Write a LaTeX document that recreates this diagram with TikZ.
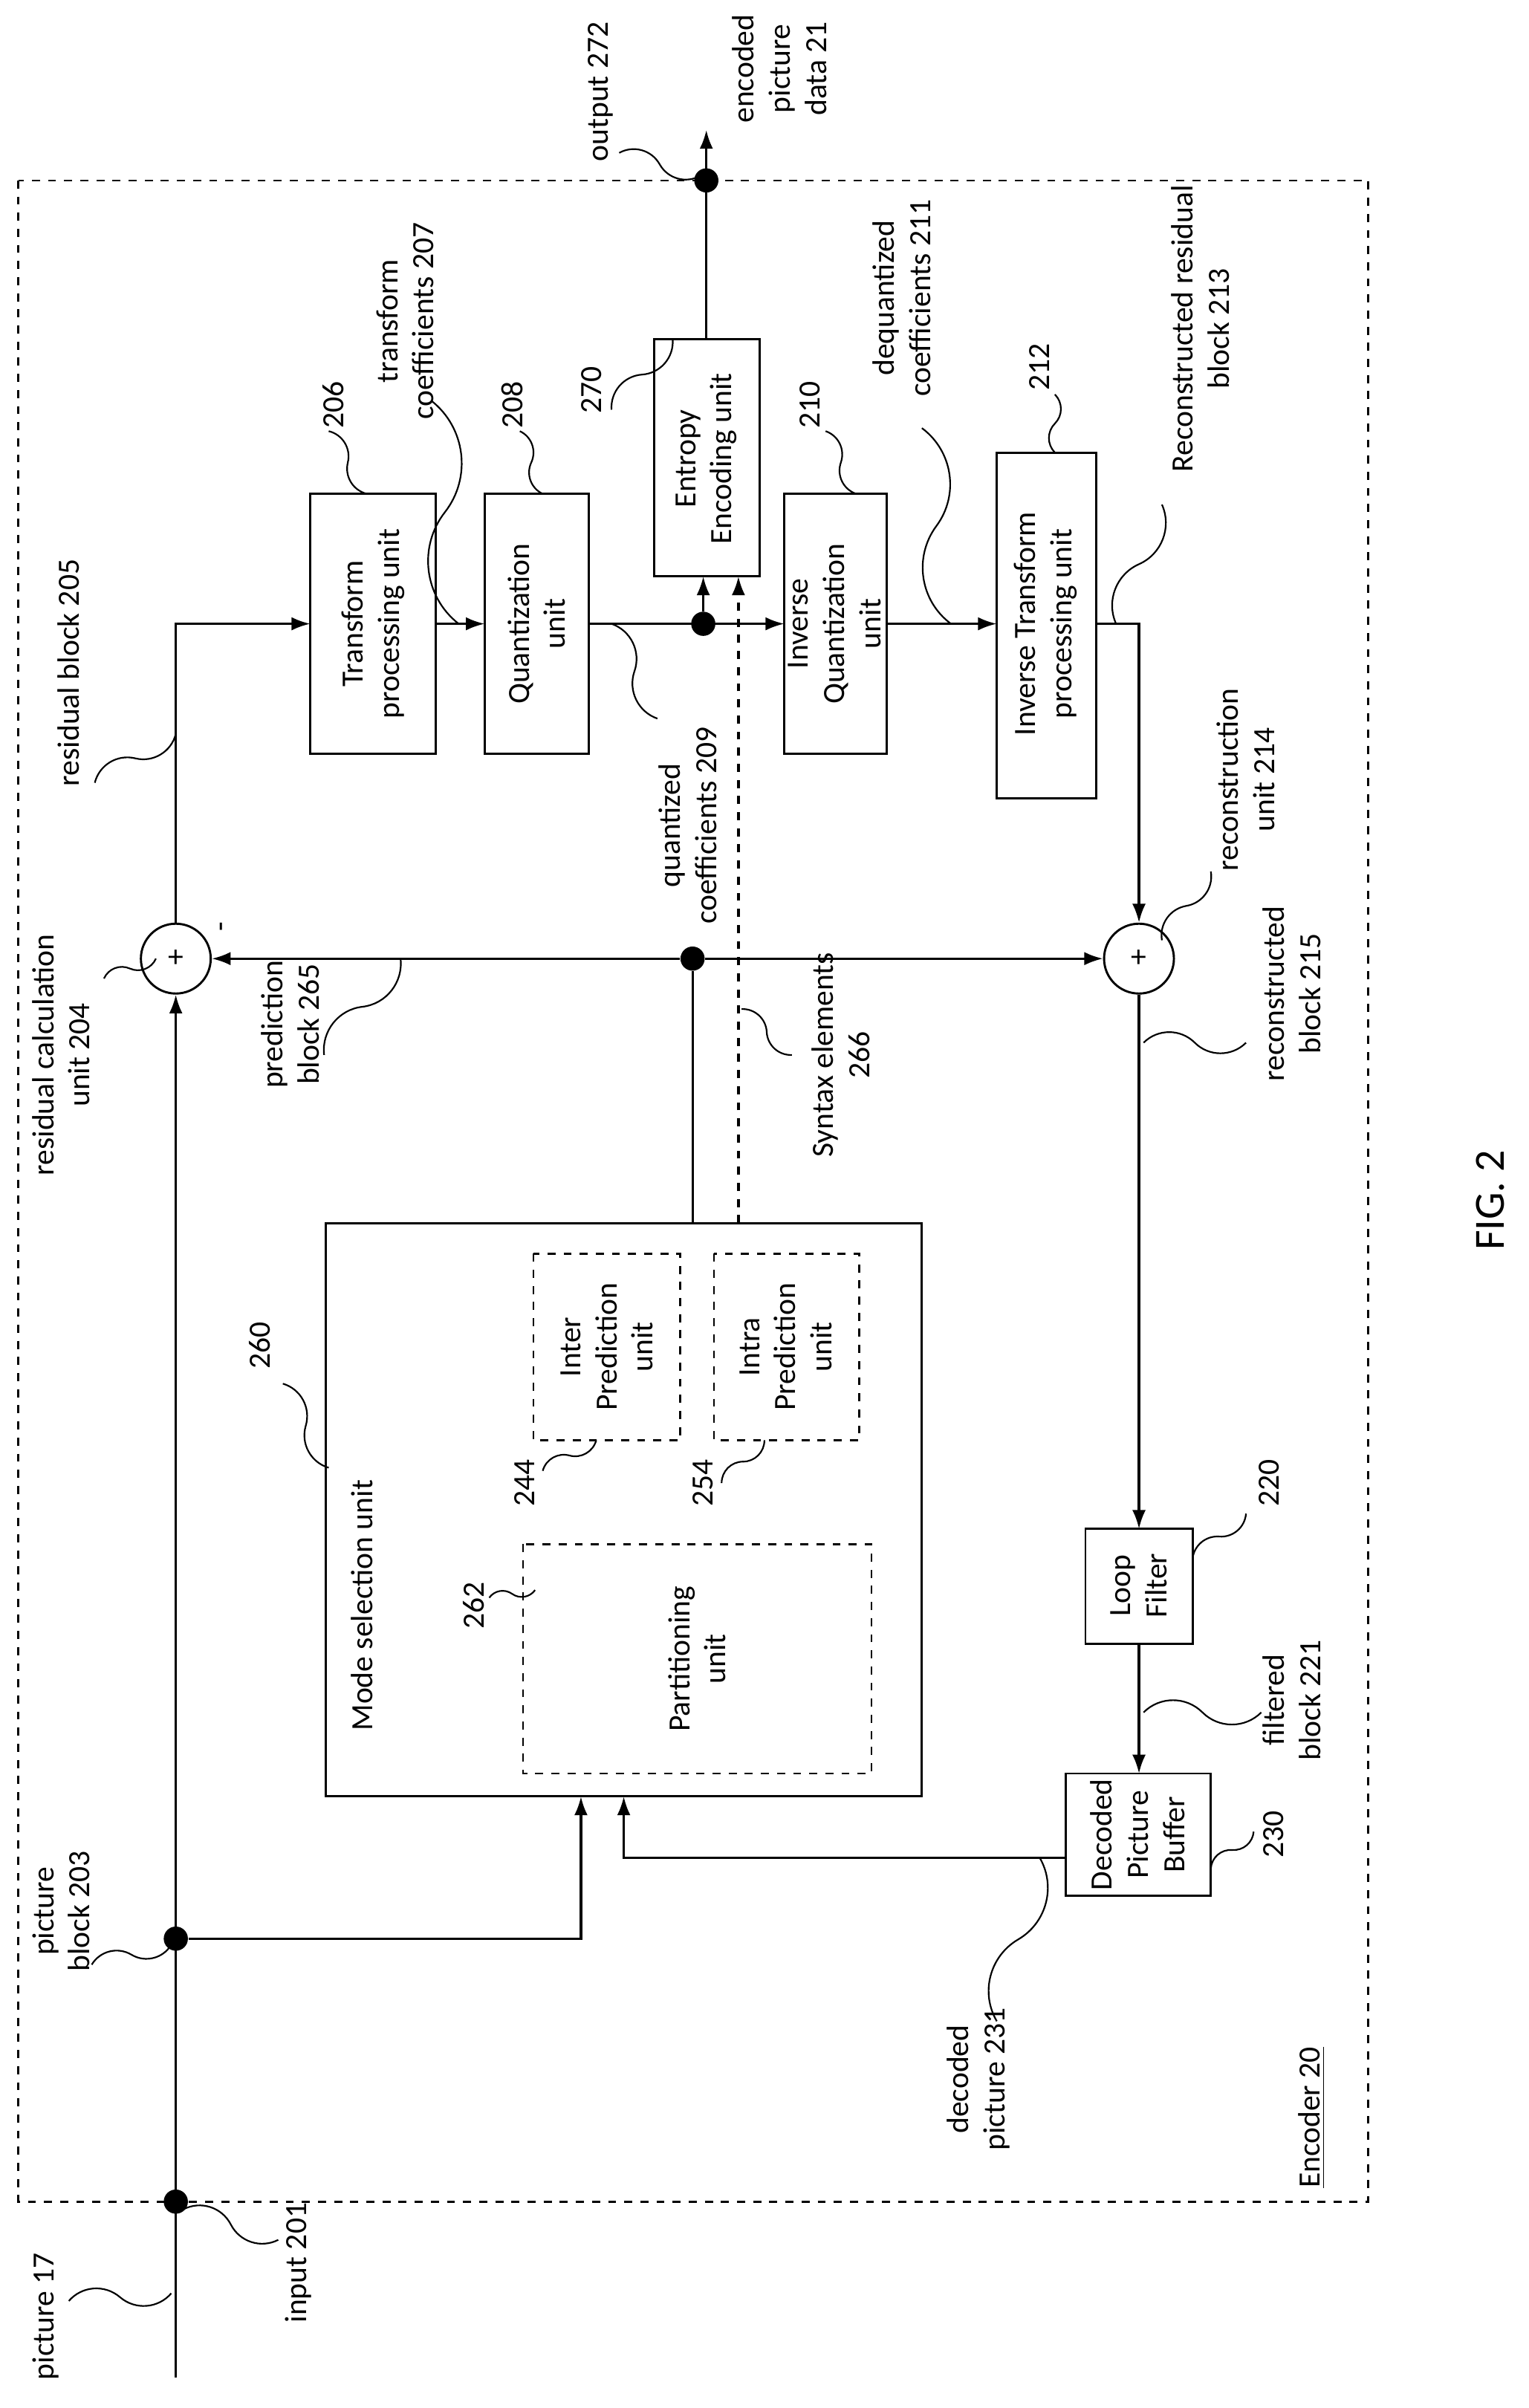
\documentclass[tikz,border=0pt]{standalone}
\usepackage{fontspec}
\setmainfont{Carlito}
\usetikzlibrary{arrows.meta,calc}
\begin{document}
\begin{tikzpicture}[x=0.02cm,y=-0.02cm,
  every node/.style={font=\fontsize{11.5}{13.5}\selectfont},
  lab/.style={rotate=90,align=center,inner sep=1pt},
  box/.style={draw,line width=0.8pt},
  dbox/.style={draw,dashed,line width=0.7pt},
  ln/.style={line width=0.9pt},
  arr/.style={line width=0.9pt,-{Latex[length=7pt,width=5pt]}},
  dot/.style={circle,fill,inner sep=0pt,minimum size=9pt},
  sq/.style={line width=0.6pt}]
\newcommand{\sqg}[4]{\draw[sq] (#1,#2) to[bend left=45] ($(#1,#2)!0.5!(#3,#4)$) to[bend right=45] (#3,#4);}
\useasboundingbox (0,0) rectangle (1000,1575);
\draw[dashed,line width=0.7pt] (12,118) rectangle (895,1440);
% boxes
\draw[box] (203,323) rectangle (285,493); \node[lab] (tp) at (244,408) {Transform\\processing unit};
\draw[box] (317,323) rectangle (385,493); \node[lab] (qu) at (351,408) {Quantization\\unit};
\draw[box] (428,222) rectangle (497,377); \node[lab] (en) at (462,300) {Entropy\\Encoding unit};
\draw[box] (513,323) rectangle (580,493); \node[lab] (iq) at (546,408) {Inverse\\Quantization\\unit};
\draw[box] (652,296) rectangle (717,522); \node[lab] (it) at (684,408) {Inverse Transform\\processing unit};
\draw[box] (710,1000) rectangle (780,1075); \node[lab] (lf) at (745,1037) {Loop\\Filter};
\draw[box] (697,1160) rectangle (792,1240); \node[lab] (dpb) at (744,1200) {Decoded\\Picture\\Buffer};
\draw[box] (213,800) rectangle (603,1175); \node[lab] (ms) at (237,1050) {Mode selection unit};
\draw[dbox] (349,820) rectangle (445,942); \node[lab] (inter) at (397,881) {Inter\\Prediction\\unit};
\draw[dbox] (467,820) rectangle (562,942); \node[lab] (intra) at (514,881) {Intra\\Prediction\\unit};
\draw[dbox] (342,1010) rectangle (570,1160); \node[lab] (part) at (456,1085) {Partitioning\\unit};
% adders
\node[draw,circle,minimum size=26pt,inner sep=0pt,line width=0.8pt] (a1) at (115,627) {+};
\node[draw,circle,minimum size=26pt,inner sep=0pt,line width=0.8pt] (a2) at (745,627) {+};
\node[rotate=90] at (147,606) {-};
% main lines
\draw[arr] (115,1555) -- (a1);
\node[dot] (j201) at (115,1440) {};
\node[dot] (j203) at (115,1268) {};
\draw[arr] (a1) -- (115,408) -- (203,408);
\draw[arr] (285,408) -- (317,408);
\node[dot] (jq) at (460,408) {};
\draw[arr] (385,408) -- (513,408);
\draw[arr] (jq) -- (460,377);
\node[dot] (jo) at (462,118) {};
\draw[arr] (462,222) -- (462,85);
\draw[arr,dashed] (483,800) -- (483,377);
\draw[arr] (580,408) -- (652,408);
\draw[arr] (717,408) -- (745,408) -- (a2);
\node[dot] (jp) at (453,627) {};
\draw[ln] (453,800) -- (jp);
\draw[arr] (jp) -- (a1);
\draw[arr] (jp) -- (a2);
\draw[arr] (a2) -- (745,1000);
\draw[arr] (745,1075) -- (745,1160);
\draw[arr] (697,1215) -- (408,1215) -- (408,1175);
\draw[arr] (j203) -- (380,1268) -- (380,1175);
% labels
\node[lab] at (30,1515) {picture 17};
\node[lab] at (195,1480) {input 201};
\node[lab] at (40,1250) {picture\\block 203};
\node[lab] at (40,690) {residual calculation\\unit 204};
\node[lab] at (45,440) {residual block 205};
\node[lab] at (190,670) {prediction\\block 265};
\node[lab] at (218,265) {206};
\node[lab] at (265,210) {transform\\coefficients 207};
\node[lab] at (335,265) {208};
\node[lab] at (450,540) {quantized\\coefficients 209};
\node[lab] at (387,255) {270};
\node[lab] at (393,60) {output 272};
\node[lab] at (510,45) {encoded\\picture\\data 21};
\node[lab] at (530,265) {210};
\node[lab] at (590,195) {dequantized\\coefficients 211};
\node[lab] at (680,240) {212};
\node[lab] at (785,215) {Reconstructed residual\\block 213};
\node[lab] at (815,510) {reconstruction\\unit 214};
\node[lab] at (845,650) {reconstructed\\block 215};
\node[lab] at (550,690) {Syntax elements\\266};
\node[lab] at (170,880) {260};
\node[lab] at (343,970) {244};
\node[lab] at (460,970) {254};
\node[lab] at (310,1050) {262};
\node[lab] at (830,970) {220};
\node[lab] at (845,1112) {filtered\\block 221};
\node[lab] at (833,1200) {230};
\node[lab] at (640,1360) {decoded\\picture 231};
\node[lab] at (858,1385) {\underline{Encoder 20}};
\node[rotate=90,font=\fontsize{16}{19}\selectfont] at (975,785) {FIG. 2};
% squiggles
\sqg{45}{1505}{112}{1500}
\sqg{182}{1465}{120}{1445}
\sqg{60}{1285}{112}{1272}
\sqg{68}{640}{102}{627}
\sqg{62}{512}{115}{480}
\sqg{212}{690}{262}{627}
\sqg{215}{282}{240}{323}
\sqg{282}{262}{300}{408}
\sqg{340}{282}{355}{323}
\sqg{430}{470}{400}{408}
\sqg{400}{268}{440}{222}
\sqg{405}{100}{458}{115}
\sqg{540}{282}{560}{323}
\sqg{603}{280}{622}{408}
\sqg{690}{258}{690}{296}
\sqg{760}{330}{730}{408}
\sqg{792}{570}{760}{615}
\sqg{815}{682}{748}{682}
\sqg{518}{690}{485}{660}
\sqg{185}{905}{215}{960}
\sqg{355}{962}{390}{942}
\sqg{472}{970}{500}{942}
\sqg{320}{1045}{350}{1040}
\sqg{815}{990}{780}{1020}
\sqg{825}{1120}{748}{1120}
\sqg{820}{1198}{792}{1222}
\sqg{652}{1322}{680}{1215}
\end{tikzpicture}
\end{document}
